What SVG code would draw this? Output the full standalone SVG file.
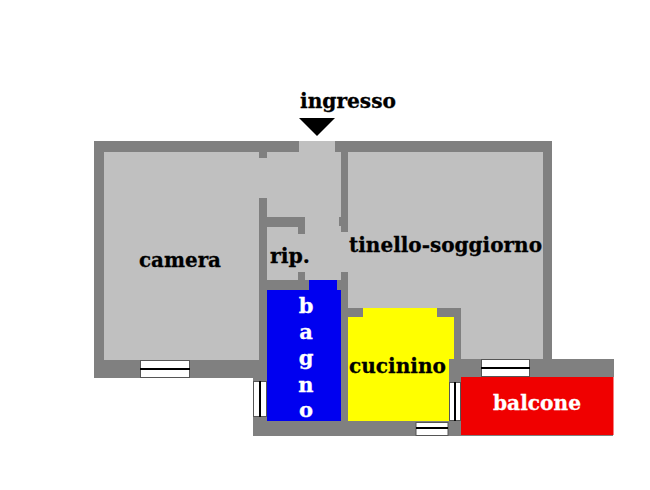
<svg xmlns="http://www.w3.org/2000/svg" width="650" height="490" viewBox="0 0 650 490">
<style>
.wall{fill:#808080}
.floor{fill:#c0c0c0}
.win{fill:#fff;stroke:#555;stroke-width:1}
.bar{stroke:#000;stroke-width:2;fill:none}
text{font-family:"DejaVu Serif","Liberation Serif",serif;font-weight:bold;font-size:21px;fill:#000;stroke:#000;stroke-width:.3}
.w{fill:#fff;stroke:#fff}
</style>
<rect width="650" height="490" fill="#fff"/>
<path class="wall" d="M94 141H552V359H614V377H613V436H253V378H94Z"/>
<g id="floors">
<rect class="floor" x="104" y="152" width="155" height="208"/>
<rect class="floor" x="259" y="158" width="8" height="40"/>
<rect class="floor" x="259" y="152" width="82" height="6" />
<rect class="floor" x="267" y="158" width="74" height="59"/>
<rect class="floor" x="299" y="141" width="36" height="11"/>
<rect class="floor" x="267" y="227" width="31" height="53"/>
<rect class="floor" x="298" y="234" width="7" height="38"/>
<rect class="floor" x="305" y="217" width="34" height="63"/>
<rect class="floor" x="339" y="226" width="2" height="54"/>
<rect class="floor" x="341" y="232" width="7" height="40"/>
<path class="floor" d="M348 152H543V359H461V308H348Z"/>
</g>
<rect x="259" y="152" width="8" height="6" class="wall"/>
<path id="bagno" fill="#0000f0" d="M267 290H309V280H337V290H341V421H267Z"/>
<path id="cucinino" fill="#ffff00" d="M348 317H363V308H437V317H454V359H449V421H348Z"/>
<rect id="balcone" x="461" y="377" width="152.500" height="58" fill="#f00000"/>
<g id="windows">
<rect class="win" x="140.500" y="360.500" width="49" height="17"/><path class="bar" d="M140 369H190"/>
<rect class="win" x="253.500" y="381.500" width="13" height="35"/><path class="bar" d="M260 381V417"/>
<rect class="win" x="481.500" y="359.500" width="48" height="17"/><path class="bar" d="M481 368H530"/>
<rect class="win" x="449.500" y="382.500" width="11" height="38"/><path class="bar" d="M455 382V421"/>
<rect class="win" x="416" y="422.500" width="32" height="13"/><path class="bar" d="M416 428H448"/>
</g>
<path id="arrow" d="M299 118H335L317 136Z" fill="#000"/>
<g id="labels">
<text x="300" y="108" textLength="96" lengthAdjust="spacingAndGlyphs">ingresso</text>
<text x="139" y="267" textLength="82" lengthAdjust="spacingAndGlyphs">camera</text>
<text x="270" y="263" textLength="40" lengthAdjust="spacingAndGlyphs">rip.</text>
<text x="349" y="252" textLength="193" lengthAdjust="spacingAndGlyphs">tinello-soggiorno</text>
<text x="349" y="373" textLength="97" lengthAdjust="spacingAndGlyphs">cucinino</text>
<text class="w" x="493" y="410" textLength="88" lengthAdjust="spacingAndGlyphs">balcone</text>
<g text-anchor="middle">
<text class="w" x="306" y="313">b</text>
<text class="w" x="306" y="339">a</text>
<text class="w" x="306" y="365">g</text>
<text class="w" x="306" y="392">n</text>
<text class="w" x="306" y="417">o</text>
</g>
</g>
</svg>
